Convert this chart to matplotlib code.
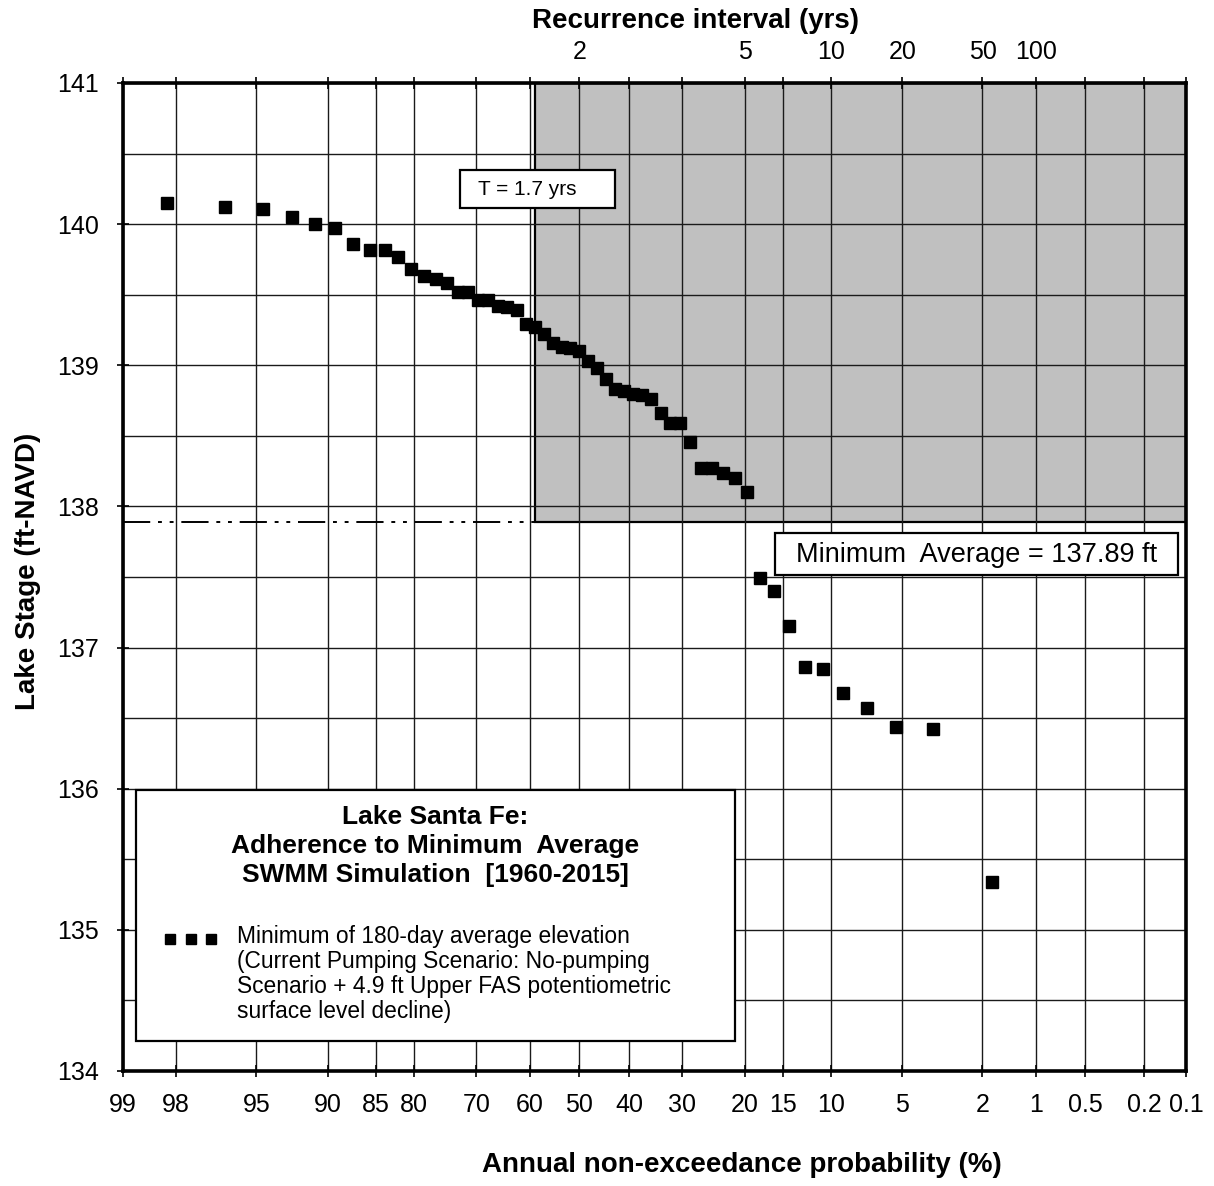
from statistics import NormalDist
import numpy as np
import matplotlib.pyplot as plt
from matplotlib.patches import Rectangle

plt.rcParams['font.family'] = ['Liberation Sans', 'DejaVu Sans']

# minimum of the 180-day average lake stage for each simulated year, highest to lowest (ft-NAVD)
stage = [140.15, 140.12, 140.11, 140.05, 140.00, 139.97, 139.86, 139.82, 139.82, 139.77,
         139.68, 139.63, 139.61, 139.58, 139.52, 139.52, 139.46, 139.46, 139.42, 139.41,
         139.39, 139.29, 139.27, 139.22, 139.16, 139.13, 139.12, 139.10, 139.03, 138.98,
         138.90, 138.83, 138.82, 138.80, 138.79, 138.76, 138.66, 138.59, 138.59, 138.46,
         138.27, 138.27, 138.24, 138.20, 138.10, 137.49, 137.40, 137.15, 136.86, 136.85,
         136.68, 136.57, 136.44, 136.42, 135.34]

prob_ticks = [99, 98, 95, 90, 85, 80, 70, 60, 50, 40, 30, 20, 15, 10, 5, 2, 1, 0.5, 0.2, 0.1]
prob_labels = ['99', '98', '95', '90', '85', '80', '70', '60', '50', '40', '30', '20', '15',
               '10', '5', '2', '1', '0.5', '0.2', '0.1']
return_periods = [2, 5, 10, 20, 50, 100]

min_avg = 137.89      # minimum average level (ft)
t_min_avg = 1.7       # recurrence interval of the minimum average (yrs)

nd = NormalDist()


def to_x(p):
    # non-exceedance probability (%) -> normal probability paper coordinate
    return np.array([nd.inv_cdf(1 - v / 100) for v in np.atleast_1d(p)])


# Weibull plotting positions m/(n+1), stages ranked in ascending order
n = len(stage)
rank = np.arange(n, 0, -1)
p_nonexc = rank / (n + 1) * 100

fig = plt.figure(figsize=(12.14, 11.86), dpi=100)
ax = fig.add_axes([122.5 / 1214, 1 - 1071 / 1186, 1063.5 / 1214, 988 / 1186])

x_lo, x_hi = to_x(99)[0], to_x(0.1)[0]
ax.set_xlim(x_lo, x_hi)
ax.set_ylim(134, 141)

# shaded zone above the minimum average, right of its recurrence interval
x_t = to_x(100 / t_min_avg)[0]
ax.add_patch(Rectangle((x_t, min_avg), x_hi - x_t, 141 - min_avg,
                       facecolor='#c0c0c0', edgecolor='black', lw=1.6, zorder=1))
ax.plot([x_lo, x_t], [min_avg, min_avg], color='black', lw=1.4,
        dashes=[14, 4, 2, 4, 2, 4], zorder=2)

ax.plot(to_x(p_nonexc), stage, 's', color='black', ms=8, zorder=3)

# axes, ticks, grid
ax.set_xticks(to_x(prob_ticks))
ax.set_xticklabels(prob_labels)
ax.set_yticks(np.arange(134, 142, 1))
ax.set_yticks(np.arange(134.5, 141, 1), minor=True)
ax.grid(True, which='both', color='#1a1a1a', lw=1.0)
ax.tick_params(axis='x', which='major', direction='inout', length=8, width=1.2,
               labelsize=18, pad=12, top=True)
ax.tick_params(axis='y', which='major', direction='inout', length=8, width=1.2,
               labelsize=18, pad=13)
ax.tick_params(axis='y', which='minor', length=0)
for sp in ax.spines.values():
    sp.set_linewidth(2.6)

sec = ax.secondary_xaxis('top')
sec.set_xticks(to_x(100 / np.array(return_periods)))
sec.set_xticklabels([str(t) for t in return_periods])
sec.tick_params(length=0, labelsize=18, pad=14)
sec.spines['top'].set_visible(False)

fig.text(696 / 1214, 1 - 21 / 1186, 'Recurrence interval (yrs)', ha='center', va='center',
         fontsize=20, fontweight='bold')
fig.text(742 / 1214, 1 - 1165 / 1186, 'Annual non-exceedance probability (%)', ha='center',
         va='center', fontsize=20, fontweight='bold')
fig.text(28 / 1214, 1 - 571 / 1186, 'Lake Stage (ft-NAVD)', ha='center', va='center',
         rotation=90, fontsize=20, fontweight='bold')

# annotation boxes
ax.add_patch(Rectangle((0.3174, 0.8735), 0.1457, 0.0384, transform=ax.transAxes,
                       facecolor='white', edgecolor='black', lw=1.6, zorder=4))
ax.text(0.381, 0.8927, f'T = {t_min_avg} yrs', transform=ax.transAxes, ha='center',
        va='center', fontsize=15, zorder=5)

ax.add_patch(Rectangle((0.6135, 0.502), 0.3794, 0.0425, transform=ax.transAxes,
                       facecolor='white', edgecolor='black', lw=1.6, zorder=4))
ax.text(0.803, 0.5223, f'Minimum  Average = {min_avg} ft', transform=ax.transAxes,
        ha='center', va='center', fontsize=19.5, zorder=5)

# legend box
ax.add_patch(Rectangle((0.0127, 0.0304), 0.5628, 0.254, transform=ax.transAxes,
                       facecolor='white', edgecolor='black', lw=1.6, zorder=4))
ax.text(0.2938, 0.2277, 'Lake Santa Fe:\nAdherence to Minimum  Average\nSWMM Simulation  [1960-2015]',
        transform=ax.transAxes, ha='center', va='center', fontsize=19, fontweight='bold',
        linespacing=1.28, zorder=5)
ax.plot([0.0447, 0.0644, 0.0832], [0.1336] * 3, 's', color='black', ms=6.5,
        transform=ax.transAxes, zorder=5)
ax.text(0.1077, 0.0982,
        'Minimum of 180-day average elevation\n(Current Pumping Scenario: No-pumping\n'
        'Scenario + 4.9 ft Upper FAS potentiometric\nsurface level decline)',
        transform=ax.transAxes, ha='left', va='center', fontsize=16.4, linespacing=1.1,
        zorder=5)

fig.savefig('out.png', dpi=100)
